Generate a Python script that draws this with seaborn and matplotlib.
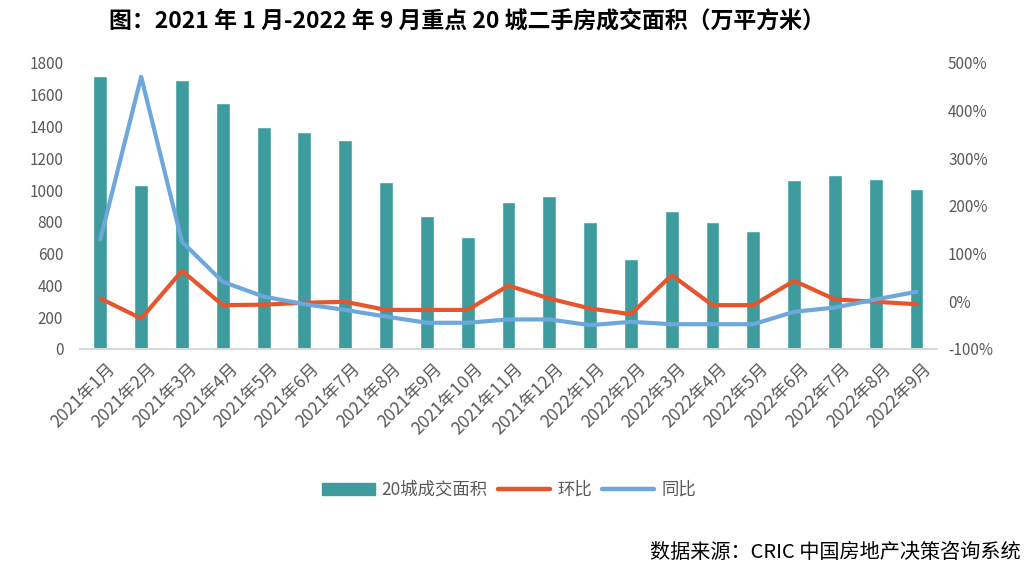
import numpy as np
import pandas as pd
import matplotlib
matplotlib.use("Agg")
import matplotlib.pyplot as plt
from matplotlib.patches import Patch
from matplotlib.lines import Line2D
from matplotlib.transforms import ScaledTranslation
import seaborn as sns

months = ["2021年1月", "2021年2月", "2021年3月", "2021年4月", "2021年5月", "2021年6月",
          "2021年7月", "2021年8月", "2021年9月", "2021年10月", "2021年11月", "2021年12月",
          "2022年1月", "2022年2月", "2022年3月", "2022年4月", "2022年5月", "2022年6月",
          "2022年7月", "2022年8月", "2022年9月"]
area = [1715, 1030, 1695, 1548, 1400, 1368, 1313, 1050, 840, 703, 922,
        965, 797, 564, 868, 797, 745, 1061, 1093, 1072, 1009]
mom = [6, -36, 64, -8, -7, -3, -1, -18, -18, -18, 33,
       6, -15, -27, 55, -8, -8, 43, 4, -1, -6]
yoy = [130, 471, 125, 41, 10, -6, -18, -32, -45, -45, -38,
       -38, -50, -43, -48, -48, -48, -22, -13, 4, 20]

TEAL = "#3E9C9F"
RED = "#E5552E"
BLUE = "#6DA7DC"
GRAY = "#595959"

sns.set_theme(style="white")
plt.rcParams["font.family"] = ["Noto Sans CJK SC", "DejaVu Sans"]

df = pd.DataFrame({"month": months, "area": area, "mom": mom, "yoy": yoy})
df["idx"] = np.arange(len(df))

fig = plt.figure(figsize=(10.33, 5.71), dpi=100)
ax = fig.add_axes([0.0774, 0.3888, 0.8296, 0.5009])

sns.barplot(data=df, x="month", y="area", color=TEAL, width=0.34, saturation=1, ax=ax)
ax.set_ylim(0, 1800)
ax.set_yticks(range(0, 1801, 200))
ax.set_xlim(-0.5, len(df) - 0.5)
ax.set_xlabel("")
ax.set_ylabel("")

ax2 = ax.twinx()
sns.lineplot(data=df, x="idx", y="mom", color=RED, linewidth=3.0, ax=ax2)
sns.lineplot(data=df, x="idx", y="yoy", color=BLUE, linewidth=3.0, ax=ax2)
ax2.set_ylim(-100, 500)
ax2.set_yticks(range(-100, 501, 100))
ax2.set_yticklabels([f"{v}%" for v in range(-100, 501, 100)])
ax2.set_ylabel("")
ax2.set_xlim(-0.5, len(df) - 0.5)

for a in (ax, ax2):
    for s in ("left", "right", "top"):
        a.spines[s].set_visible(False)
    a.spines["bottom"].set_color("#D9D9D9")
    a.tick_params(axis="y", length=0, labelsize=11, labelcolor=GRAY)

ax.tick_params(axis="y", pad=12)
ax2.tick_params(axis="y", pad=8)

# x ticks: labels at category centres, tick marks between categories
ax.set_xticks(np.arange(len(df)))
ax.set_xticklabels(months, rotation=45, ha="right", rotation_mode="anchor",
                   fontsize=12.5, color=GRAY)
ax.tick_params(axis="x", which="major", length=0, pad=8)
ax.set_xticks(np.arange(-0.5, len(df)), minor=True)
ax.tick_params(axis="x", which="minor", length=6, color="#D9D9D9", width=1)
ax2.tick_params(axis="x", length=0)
offset = ScaledTranslation(6 / 100, 0, fig.dpi_scale_trans)
for lab in ax.get_xticklabels():
    lab.set_transform(lab.get_transform() + offset)

fig.text(0.452, 0.963, "图：2021 年 1 月-2022 年 9 月重点 20 城二手房成交面积（万平方米）",
         ha="center", va="center", fontsize=16.5, fontweight="bold", color="black")

handles = [Patch(facecolor=TEAL, edgecolor=TEAL),
           Line2D([0], [0], color=RED, linewidth=3.2),
           Line2D([0], [0], color=BLUE, linewidth=3.2)]
fig.legend(handles, ["20城成交面积", "环比", "同比"], loc="center", ncol=3,
           bbox_to_anchor=(0.493, 0.142), frameon=False, fontsize=12.5,
           labelcolor=GRAY, handlelength=3.0, handletextpad=0.4, columnspacing=0.6)

fig.text(0.988, 0.033, "数据来源：CRIC 中国房地产决策咨询系统", ha="right", va="center",
         fontsize=14.5, color="black")

fig.savefig("out.png", dpi=100)
